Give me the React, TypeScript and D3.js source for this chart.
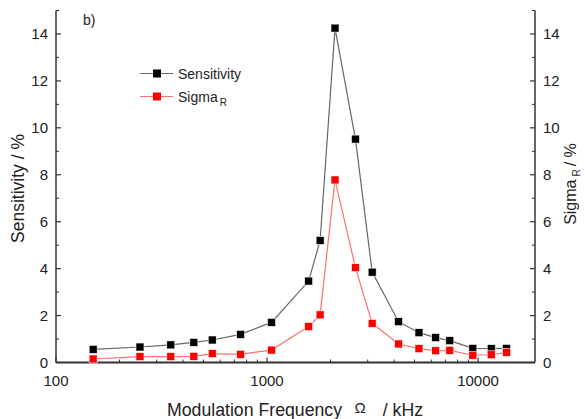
import React from "react";
import * as d3 from "d3";

const freqs = [150, 250, 350, 450, 550, 750, 1050, 1575, 1785, 2100, 2625, 3150, 4200, 5250, 6300, 7350, 9450, 11550, 13650];
const sensitivity = [0.56, 0.66, 0.75, 0.86, 0.96, 1.2, 1.71, 3.47, 5.2, 14.25, 9.52, 3.85, 1.74, 1.27, 1.06, 0.93, 0.6, 0.59, 0.6];
const sigmaR = [0.15, 0.25, 0.25, 0.26, 0.38, 0.35, 0.53, 1.53, 2.03, 7.78, 4.04, 1.67, 0.79, 0.59, 0.5, 0.52, 0.31, 0.33, 0.43];
const yTicks = [0, 2, 4, 6, 8, 10, 12, 14];
const xTicks = [100, 1000, 10000];

const W = 585, H = 419;
const L = 56, R = 535, T = 10.5, B = 362.5;
const FONT = "Arial, 'Liberation Sans', sans-serif";

export default function App() {
  const x = d3.scaleLog().domain([100, 18620]).range([L, R]);
  const y = d3.scaleLinear().domain([0, 15]).range([B, T]);
  const line = d3.line<[number, number]>().x(d => x(d[0])).y(d => y(d[1]));
  const blackPts: [number, number][] = freqs.map((f, i) => [f, sensitivity[i]]);
  const redPts: [number, number][] = freqs.map((f, i) => [f, sigmaR[i]]);
  const minorY = d3.range(1, 16, 2);
  const minorX: number[] = [];
  for (const dec of [100, 1000, 10000]) for (let k = 2; k <= 9; k++) { const v = dec * k; if (v < 18620) minorX.push(v); }
  const axisColor = "#333";
  const sq = 8;
  return (
    <svg width={W} height={H} style={{ position: "absolute", left: 0, top: 0, background: "#fff" }} fontFamily={FONT}>
      {/* axes */}
      <line x1={L} y1={T} x2={L} y2={B} stroke={axisColor} strokeWidth={1.5} />
      <line x1={R} y1={T} x2={R} y2={B} stroke={axisColor} strokeWidth={1.5} />
      <line x1={L} y1={B} x2={R} y2={B} stroke={axisColor} strokeWidth={2} />
      {yTicks.map(t => (
        <g key={"y" + t}>
          <line x1={L} x2={L + 5} y1={y(t)} y2={y(t)} stroke={axisColor} strokeWidth={1.2} />
          <line x1={R} x2={R - 5} y1={y(t)} y2={y(t)} stroke={axisColor} strokeWidth={1.2} />
          <text x={L - 8} y={y(t)} dy="0.36em" textAnchor="end" fontSize={15} fill="#222">{t}</text>
          <text x={R + 8} y={y(t)} dy="0.36em" textAnchor="start" fontSize={15} fill="#222">{t}</text>
        </g>
      ))}
      {minorY.map(t => (
        <g key={"my" + t}>
          <line x1={L} x2={L + 3} y1={y(t)} y2={y(t)} stroke={axisColor} strokeWidth={1} />
          <line x1={R} x2={R - 3} y1={y(t)} y2={y(t)} stroke={axisColor} strokeWidth={1} />
        </g>
      ))}
      {xTicks.map(t => (
        <g key={"x" + t}>
          <line x1={x(t)} x2={x(t)} y1={B} y2={B - 5} stroke={axisColor} strokeWidth={1.2} />
          <text x={x(t)} y={386} textAnchor="middle" fontSize={15} fill="#222">{t}</text>
        </g>
      ))}
      {minorX.map(t => (
        <line key={"mx" + t} x1={x(t)} x2={x(t)} y1={B} y2={B - 3} stroke={axisColor} strokeWidth={1} />
      ))}
      {/* series */}
      <path d={line(blackPts) || ""} fill="none" stroke="#666" strokeWidth={1.2} />
      <path d={line(redPts) || ""} fill="none" stroke="#ff7070" strokeWidth={1.2} />
      {blackPts.map((p, i) => (
        <rect key={"b" + i} x={x(p[0]) - sq / 2} y={y(p[1]) - sq / 2} width={sq} height={sq} fill="#000" stroke="#fff" strokeWidth={0.6} />
      ))}
      {redPts.map((p, i) => (
        <rect key={"r" + i} x={x(p[0]) - sq / 2} y={y(p[1]) - sq / 2} width={sq} height={sq} fill="#ff0000" stroke="#fff" strokeWidth={0.6} />
      ))}
      {/* legend */}
      <line x1={140} x2={173} y1={73.5} y2={73.5} stroke="#666" strokeWidth={1.2} />
      <rect x={157 - 4} y={73.5 - 4} width={8} height={8} fill="#000" />
      <text x={178} y={78.5} fontSize={14} fill="#222">Sensitivity</text>
      <line x1={140} x2={173} y1={96.5} y2={96.5} stroke="#ff7070" strokeWidth={1.2} />
      <rect x={157 - 4} y={96.5 - 4} width={8} height={8} fill="#ff0000" />
      <text x={178} y={101.5} fontSize={14} fill="#222">Sigma<tspan fontSize={10} dx={2} dy={4}>R</tspan></text>
      <text x={83} y={25} fontSize={14} fill="#222">b)</text>
      {/* axis titles */}
      <text transform={`translate(24,${(133 + 244) / 2}) rotate(-90)`} textAnchor="middle" fontSize={17.5} fill="#222">Sensitivity / %</text>
      <text transform={`translate(576,${(138 + 230) / 2}) rotate(-90)`} textAnchor="middle" fontSize={16} fill="#222">Sigma<tspan fontSize={10} dx={3} dy={4}>R</tspan><tspan dx={3} dy={-4}>/ %</tspan></text>
      <text x={167} y={416} textAnchor="start" fontSize={17.7} fill="#222">Modulation Frequency</text>
      <text x={360} y={413} textAnchor="middle" fontSize={15} fill="#222">Ω</text>
      <text x={423} y={416} textAnchor="end" fontSize={17.7} fill="#222">/ kHz</text>
    </svg>
  );
}
